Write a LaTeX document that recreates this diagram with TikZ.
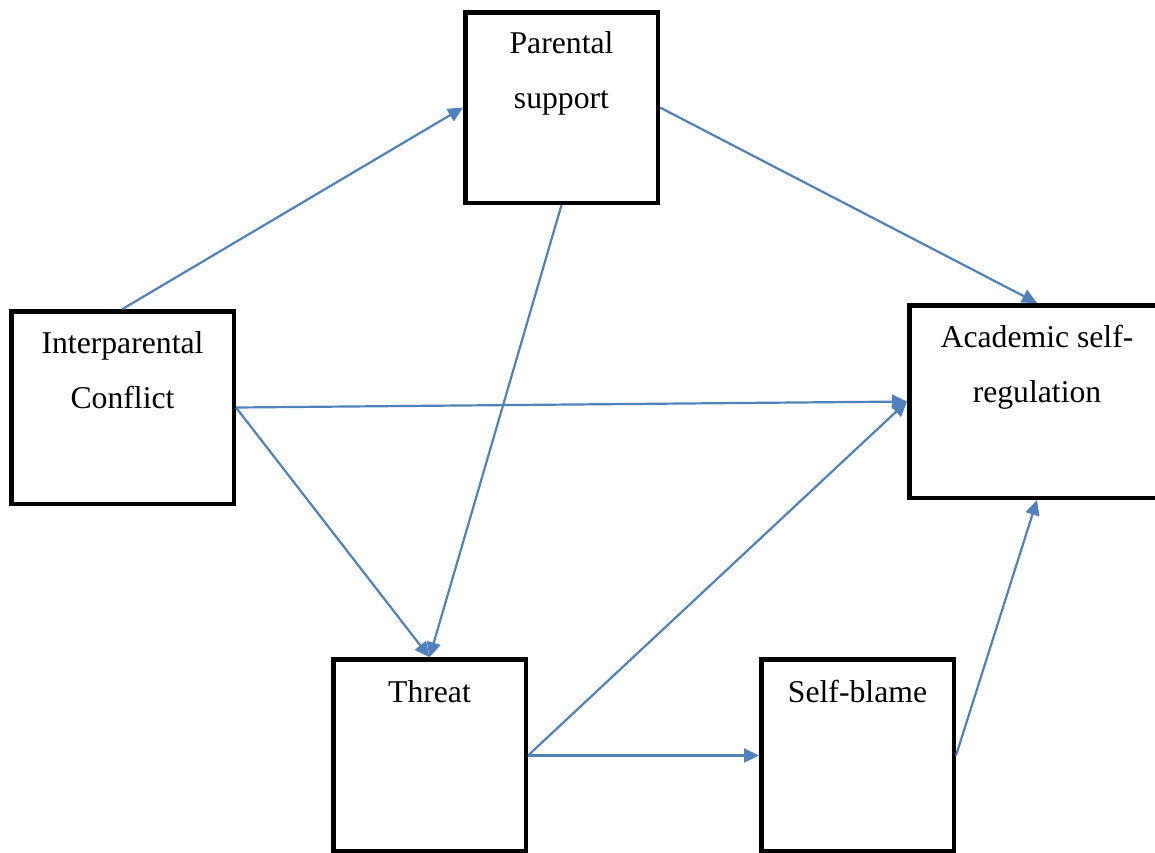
\documentclass[tikz,border=0pt]{standalone}
\usepackage{fontspec}
\setmainfont{Liberation Serif}
\usetikzlibrary{arrows.meta}
\definecolor{arrblue}{HTML}{4F81BD}
\tikzset{
  box/.style={draw=black, line width=4.5pt, fill=white, minimum width=#1, inner sep=0pt},
  boxtext/.style={anchor=base, inner sep=0pt, font=\fontsize{31.7}{38}\selectfont},
  conn/.style={draw=arrblue, line width=2.2pt, -{Triangle[length=15pt,width=14pt]}}
}
\begin{document}
\begin{tikzpicture}[x=1pt,y=-1pt]
\useasboundingbox (0,0) rectangle (1155,852);
\begin{scope}
\clip (0,0) rectangle (1155,852);
\node[box=192.5pt, minimum height=190.5pt] (ps) at (561.5,107.5) {};
\node[box=222.5pt, minimum height=192.5pt] (ic) at (122.5,407.5) {};
\node[box=255.5pt, minimum height=192.5pt] (as) at (1037,401.5) {};
\node[box=192.5pt, minimum height=192pt] (th) at (429.5,755.5) {};
\node[box=192.5pt, minimum height=192pt] (sb) at (857.5,755.5) {};

\node[boxtext] (ps1) at (561.5,53) {Parental};
\node[boxtext] (ps2) at (561.5,108) {support};
\node[boxtext] (ic1) at (122.5,353) {Interparental};
\node[boxtext] (ic2) at (122.5,408) {Conflict};
\node[boxtext] (as1) at (1037,347) {Academic self-};
\node[boxtext] (as2) at (1037,402) {regulation};
\node[boxtext] (th1) at (429.5,702) {Threat};
\node[boxtext] (sb1) at (857.5,702) {Self-blame};

\draw[conn] (ic.north) -- (ps.west);
\draw[conn] (ps.east) -- (as.north);
\draw[conn] (ps.south) -- (th.north);
\draw[conn] (ic.east) -- (as.west);
\draw[conn] (ic.east) -- (th.north);
\draw[conn] (th.east) -- (as.west);
\draw[conn] (th.east) -- (sb.west);
\draw[conn] (sb.east) -- (as.south);
\end{scope}
\end{tikzpicture}
\end{document}
